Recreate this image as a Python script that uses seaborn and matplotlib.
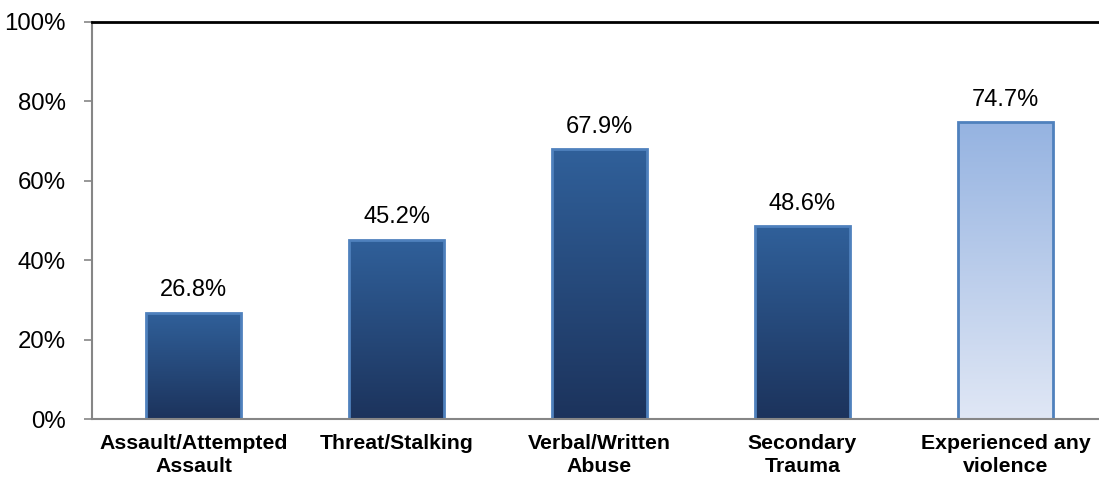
import numpy as np
import pandas as pd
import matplotlib
matplotlib.use("Agg")
import matplotlib.pyplot as plt
from matplotlib.colors import LinearSegmentedColormap
import seaborn as sns

categories = ["Assault/Attempted\nAssault", "Threat/Stalking", "Verbal/Written\nAbuse",
              "Secondary\nTrauma", "Experienced any\nviolence"]
values = [26.8, 45.2, 67.9, 48.6, 74.7]
value_labels = ["26.8%", "45.2%", "67.9%", "48.6%", "74.7%"]
y_ticks = [0, 20, 40, 60, 80, 100]
y_tick_labels = ["0%", "20%", "40%", "60%", "80%", "100%"]

# gradient colours (top, bottom) for each bar
grad_dark = ("#30609a", "#1c335c")
grad_light = ("#95b3e1", "#e0e7f5")
bar_gradients = [grad_dark, grad_dark, grad_dark, grad_dark, grad_light]

sns.set_theme(style="white")
plt.rcParams['font.family'] = ['Liberation Sans', 'DejaVu Sans']
plt.rcParams['text.color'] = 'black'
plt.rcParams['xtick.color'] = 'black'
plt.rcParams['ytick.color'] = 'black'

fig = plt.figure(figsize=(10.99, 4.79), dpi=100)
ax = fig.add_axes([92 / 1099, 1 - 419 / 479, (1107 - 92) / 1099, (419 - 22) / 479])

df = pd.DataFrame({"cat": categories, "val": values})
sns.barplot(data=df, x="cat", y="val", ax=ax, color="#1f3864", width=0.47,
            edgecolor="#4f81bd", linewidth=2, saturation=1)

for patch, (top, bottom) in zip(ax.patches, bar_gradients):
    x0 = patch.get_x()
    x1 = x0 + patch.get_width()
    y0 = patch.get_y()
    y1 = y0 + patch.get_height()
    cmap = LinearSegmentedColormap.from_list("g", [bottom, top])
    grad = np.linspace(0, 1, 256).reshape(-1, 1)
    im = ax.imshow(grad, extent=[x0, x1, y0, y1], origin="lower", aspect="auto",
                   cmap=cmap, zorder=patch.get_zorder() - 0.1)
    im.set_clip_path(patch)
    patch.set_facecolor("none")

for patch, lab in zip(ax.patches, value_labels):
    ax.annotate(lab, (patch.get_x() + patch.get_width() / 2, patch.get_height()),
                xytext=(0, 8), textcoords="offset points", ha="center", va="bottom",
                fontsize=17, color="#000000")

ax.set_xlim(-0.5, 4.5)
ax.set_ylim(0, 100)
ax.set_yticks(y_ticks)
ax.set_yticklabels(y_tick_labels, fontsize=17.3, color="black")
ax.set_xticks(range(len(categories)))
ax.set_xticklabels(categories, fontsize=15.3, fontweight="bold", linespacing=1.25, color="black")
ax.set_xlabel("")
ax.set_ylabel("")

ax.tick_params(axis="y", which="major", left=True, length=6, width=1.2, color="#868686", pad=13)
ax.tick_params(axis="x", bottom=False, pad=5)

ax.spines["left"].set_color("#868686")
ax.spines["left"].set_linewidth(1.5)
ax.spines["bottom"].set_color("#868686")
ax.spines["bottom"].set_linewidth(1.5)
ax.spines["top"].set_color("#000000")
ax.spines["top"].set_linewidth(2)
ax.spines["right"].set_visible(False)

fig.savefig("out.png", dpi=100)
